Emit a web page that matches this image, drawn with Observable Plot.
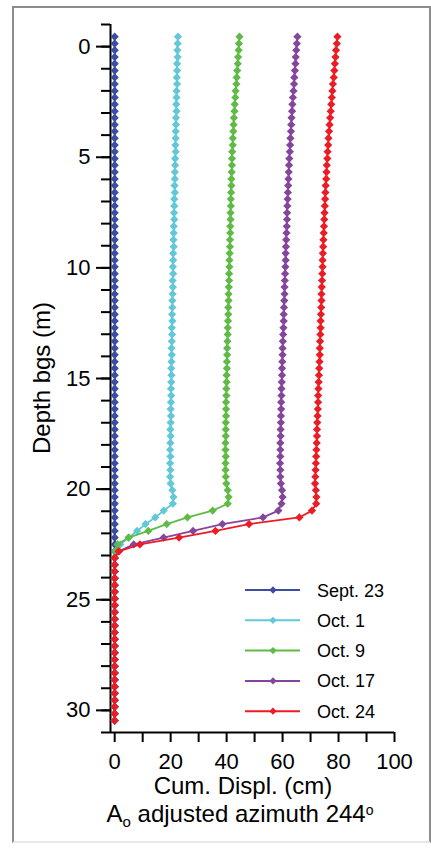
<!DOCTYPE html>
<html><head><meta charset="utf-8">
<script src="https://cdn.jsdelivr.net/npm/d3@7"></script>
<script src="https://cdn.jsdelivr.net/npm/@observablehq/plot@0.6"></script>
<style>
body{margin:0;background:#fff;font-family:"Liberation Sans",Arial,sans-serif;}
#wrap{position:relative;width:431px;height:848px;overflow:hidden;background:#fff;}
#frame{position:absolute;left:12px;top:6px;width:415px;height:833px;border:2px solid #8c8c8c;border-bottom-color:#e8e8e8;}
#chart,#over{position:absolute;left:0;top:0;}
#over{pointer-events:none;}
</style></head>
<body><div id="wrap"><div id="frame"></div><div id="chart"></div><svg id="over" width="431" height="848"></svg></div>
<script>
// depth of each reading (m below ground surface)
const depth = [-0.45,-0.14,0.16,0.47,0.77,1.08,1.39,1.69,2.00,2.30,
2.61,2.92,3.22,3.53,3.83,4.14,4.45,4.75,5.06,5.36,
5.67,5.98,6.28,6.59,6.89,7.20,7.51,7.81,8.12,8.42,
8.73,9.04,9.34,9.65,9.95,10.26,10.57,10.87,11.18,11.48,
11.79,12.10,12.40,12.71,13.01,13.32,13.63,13.93,14.24,14.54,
14.85,15.16,15.46,15.77,16.07,16.38,16.69,16.99,17.30,17.60,
17.91,18.22,18.52,18.83,19.13,19.44,19.75,20.05,20.36,20.66,
20.97,21.28,21.58,21.89,22.19,22.50,22.81,23.11,23.42,23.72,
24.03,24.34,24.64,24.95,25.25,25.56,25.87,26.17,26.48,26.78,
27.09,27.40,27.70,28.01,28.31,28.62,28.93,29.23,29.54,29.84,
30.15,30.46];

const sept23 = [0,0,0,0,0,0,0,0,0,0, 0,0,0,0,0,0,0,0,0,0,
0,0,0,0,0,0,0,0,0,0, 0,0,0,0,0,0,0,0,0,0,
0,0,0,0,0,0,0,0,0,0, 0,0,0,0,0,0,0,0,0,0,
0,0,0,0,0,0,0,0,0,0, 0,0,0,0,0,0,0,0,0,0,
0,0,0,0,0,0,0,0,0,0, 0,0,0,0,0,0,0,0,0,0, 0,0];

const oct1 = [22.6,22.5,22.4,22.5,22.3,22.3,22.2,22.3,22.1,22.1,
22.0,22.1,21.9,21.9,21.8,21.8,21.7,21.8,21.6,21.6,
21.5,21.5,21.4,21.5,21.3,21.3,21.2,21.3,21.1,21.1,
21.0,21.1,20.9,20.9,20.8,20.9,20.7,20.8,20.7,20.6,
20.6,20.5,20.6,20.4,20.5,20.4,20.3,20.4,20.3,20.2,
20.3,20.2,20.1,20.2,20.1,20.0,20.1,20.0,19.9,20.0,
19.9,19.8,19.9,19.8,19.9,19.8,20.0,20.6,21.0,20.8,
17.5,14.5,11.0,8.0,5.0,2.0,0.3,0,0,0,
0,0,0,0,0,0,0,0,0,0, 0,0,0,0,0,0,0,0,0,0, 0,0];

const oct9 = [44.6,44.4,44.3,44.1,44.0,43.8,43.6,43.5,43.2,43.1,
42.9,42.8,42.6,42.5,42.4,42.2,42.2,42.0,41.9,41.9,
41.8,41.7,41.7,41.6,41.5,41.5,41.4,41.4,41.3,41.3,
41.2,41.2,41.1,41.0,41.0,40.9,40.9,40.8,40.7,40.7,
40.6,40.6,40.5,40.4,40.4,40.3,40.2,40.2,40.1,40.1,
40.0,40.0,39.9,39.9,39.8,39.8,39.8,39.7,39.7,39.7,
39.6,39.6,39.7,39.6,39.6,39.7,39.9,40.4,40.7,40.4,
35.0,26.0,18.6,12.0,5.0,1.0,0.2,0,0,0,
0,0,0,0,0,0,0,0,0,0, 0,0,0,0,0,0,0,0,0,0, 0,0];

const oct17 = [65.3,65.1,64.9,64.7,64.6,64.4,64.2,64.1,63.9,63.7,
63.5,63.4,63.2,63.1,63.0,62.8,62.7,62.6,62.4,62.3,
62.2,62.1,62.0,61.9,61.8,61.7,61.6,61.6,61.5,61.4,
61.3,61.2,61.1,61.1,61.0,60.9,60.8,60.7,60.7,60.6,
60.5,60.4,60.4,60.3,60.2,60.1,60.0,60.0,59.9,59.8,
59.8,59.7,59.6,59.6,59.5,59.5,59.4,59.4,59.3,59.3,
59.2,59.2,59.2,59.1,59.2,59.2,59.4,59.8,60.0,59.6,
58.5,53.0,38.5,28.0,17.5,6.8,1.5,0,0,0,
0,0,0,0,0,0,0,0,0,0, 0,0,0,0,0,0,0,0,0,0, 0,0];

const oct24 = [79.6,79.4,79.1,78.9,78.7,78.5,78.3,78.0,77.8,77.6,
77.4,77.2,77.0,76.8,76.6,76.4,76.3,76.1,76.0,75.8,
75.7,75.6,75.4,75.3,75.2,75.1,75.0,74.9,74.8,74.7,
74.6,74.5,74.4,74.3,74.3,74.2,74.1,74.0,73.9,73.9,
73.8,73.7,73.6,73.6,73.5,73.4,73.3,73.3,73.2,73.1,
73.0,72.9,72.8,72.7,72.7,72.6,72.5,72.4,72.3,72.3,
72.2,72.1,72.0,71.9,71.8,71.7,71.6,71.9,72.1,72.0,
70.5,66.0,48.0,36.0,23.0,9.0,1.5,0,0,0,
0,0,0,0,0,0,0,0,0,0, 0,0,0,0,0,0,0,0,0,0, 0,0];

const seriesNames = ["Sept. 23","Oct. 1","Oct. 9","Oct. 17","Oct. 24"];
const seriesValues = [sept23, oct1, oct9, oct17, oct24];
const seriesColors = ["#3a4da1","#62c8d8","#5fbb46","#85459c","#ec1c24"];

const xTicks = [0,10,20,30,40,50,60,70,80,90,100];
const yMajorTicks = [0,5,10,15,20,25,30];
const yMinorTicks = [-1,0,1,2,3,4,5,6,7,8,9,10,11,12,13,14,15,16,17,18,19,20,21,22,23,24,25,26,27,28,29,30,31];
const xDomain = [-1.5, 100];
const yDomain = [-1, 31];

const rows = seriesNames.flatMap((name, s) =>
  depth.map((d, i) => ({name, depth: d, disp: seriesValues[s][i]})));

const marks = [];
seriesNames.forEach((name, s) => {
  const data = rows.filter(r => r.name === name);
  marks.push(Plot.line(data, {x: "disp", y: "depth", stroke: seriesColors[s], strokeWidth: 1.8}));
  marks.push(Plot.dot(data, {x: "disp", y: "depth", symbol: "diamond2", r: 3.7, fill: seriesColors[s], stroke: "none"}));
});

const chart = Plot.plot({
  width: 431, height: 848,
  marginLeft: 110, marginRight: 37, marginTop: 24, marginBottom: 116,
  style: {fontFamily: "'Liberation Sans', Arial, sans-serif", background: "transparent", color: "#000"},
  x: {domain: xDomain},
  y: {domain: yDomain, reverse: true},
  marks: [
    Plot.axisY(yMinorTicks, {tickSize: 9, tickFormat: () => "", strokeWidth: 2, label: null}),
    Plot.axisY(yMajorTicks, {tickSize: 14, tickPadding: 6, fontSize: 22, strokeWidth: 2, label: null}),
    Plot.axisX(xTicks, {tickSize: 10, tickPadding: 11, fontSize: 22, strokeWidth: 2, label: null,
      tickFormat: d => d % 20 === 0 ? String(d) : ""}),
    Plot.ruleX([xDomain[0]], {y1: yDomain[0], y2: yDomain[1], strokeWidth: 2}),
    Plot.ruleY([yDomain[1]], {x1: xDomain[0], x2: xDomain[1], strokeWidth: 2}),
    ...marks
  ]
});
document.getElementById("chart").appendChild(chart);

// titles and legend
const over = d3.select("#over");
const ff = "'Liberation Sans', Arial, sans-serif";
over.append("text").attr("x", 243).attr("y", 794).attr("text-anchor", "middle")
  .attr("font-family", ff).attr("font-size", 24).text("Cum. Displ. (cm)");
const t2 = over.append("text").attr("x", 240).attr("y", 822).attr("text-anchor", "middle")
  .attr("font-family", ff).attr("font-size", 24);
t2.append("tspan").text("A");
t2.append("tspan").attr("font-size", 15).attr("dy", 5).text("o");
t2.append("tspan").attr("dy", -5).text(" adjusted azimuth 244");
t2.append("tspan").attr("font-size", 14).attr("dy", -7).text("o");
over.append("text").attr("transform", "translate(50,378) rotate(-90)").attr("text-anchor", "middle")
  .attr("font-family", ff).attr("font-size", 24).text("Depth bgs (m)");

const leg = over.append("g");
seriesNames.forEach((name, s) => {
  const cy = 590 + s * 30.3;
  leg.append("line").attr("x1", 245).attr("x2", 300).attr("y1", cy).attr("y2", cy)
    .attr("stroke", seriesColors[s]).attr("stroke-width", 2);
  leg.append("path").attr("transform", `translate(273,${cy})`)
    .attr("d", d3.symbol(d3.symbolDiamond2, Math.PI * 3.3 * 3.3)()).attr("fill", seriesColors[s]);
  leg.append("text").attr("x", 317).attr("y", cy + 6.5).attr("font-family", ff)
    .attr("font-size", 18).text(name);
});
</script></body></html>
